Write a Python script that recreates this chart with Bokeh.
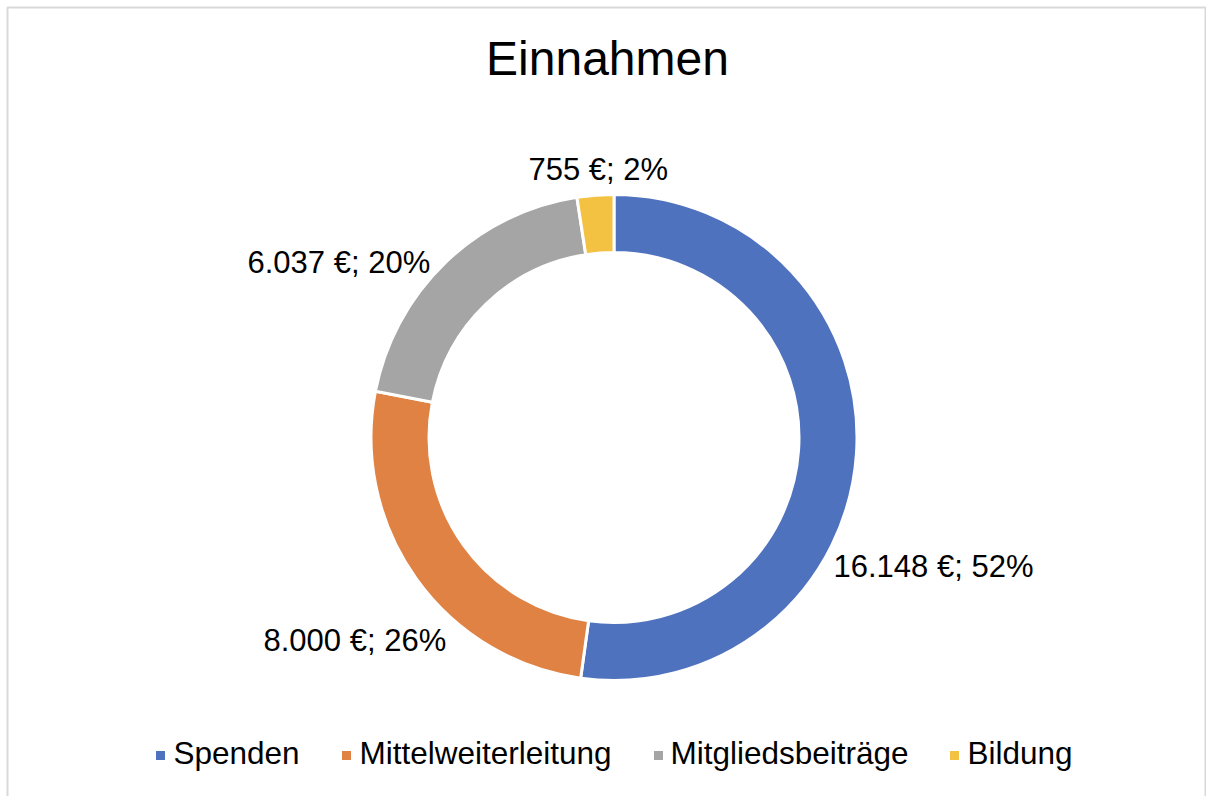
import math
from bokeh.plotting import figure
from bokeh.models import Range1d, ColumnDataSource
from bokeh.core.properties import value
from bokeh.embed import file_html
from bokeh.resources import INLINE

# ---- data ----
title_text = "Einnahmen"
categories = ["Spenden", "Mittelweiterleitung", "Mitgliedsbeiträge", "Bildung"]
amounts = [16148, 8000, 6037, 755]
colors = ["#4F72BE", "#DF8244", "#A5A5A5", "#F4C242"]

# ---- layout (image pixel coordinates) ----
W, H = 1206, 796
OX, OY = 0, 0
cx_img, cy_img = 613.5, 437
r_in, r_out = 185, 243
label_pos_img = [(833, 566), (263, 640), (247, 262), (528, 169)]
legend_marker_x_img = [160, 346, 658, 954]
legend_text_x_img = [173, 359, 670, 967]
legend_text_baseline_img = 752
legend_marker_y_img = 755
title_pos_img = (607, 58)
border_img = (7, 7, 1205, 810)
FONT = "Liberation Sans"


def dx(x):
    return x - OX


def dy(y):
    return (H + OY) - y


total = sum(amounts)
fracs = [a / total for a in amounts]
cum = [0.0]
for f in fracs:
    cum.append(cum[-1] + f)
start_angles = [math.pi / 2 - cum[i + 1] * 2 * math.pi for i in range(len(amounts))]
end_angles = [math.pi / 2 - cum[i] * 2 * math.pi for i in range(len(amounts))]


def fmt_eur(v):
    return f"{v:,}".replace(",", ".") + " €"


labels = [f"{fmt_eur(a)}; {round(f * 100)}%" for a, f in zip(amounts, fracs)]

p = figure(width=W, height=H, output_backend="svg", toolbar_location=None,
           x_range=Range1d(0, W), y_range=Range1d(0, H), min_border=0)
p.axis.visible = False
p.grid.visible = False
p.outline_line_color = None
p.background_fill_color = "white"
p.border_fill_color = "white"

# chart border
p.quad(left=[dx(border_img[0])], right=[dx(border_img[2])],
       top=[dy(border_img[1])], bottom=[dy(border_img[3])],
       fill_color=None, line_color="#D9D9D9", line_width=2)

src = ColumnDataSource(dict(
    x=[dx(cx_img)] * len(amounts), y=[dy(cy_img)] * len(amounts),
    start=start_angles, end=end_angles, color=colors, cat=categories))
p.annular_wedge(x="x", y="y", inner_radius=r_in, outer_radius=r_out,
                inner_radius_units="screen", outer_radius_units="screen",
                start_angle="start", end_angle="end", direction="anticlock",
                fill_color="color", line_color="white", line_width=3,
                source=src)

# data labels
p.text(x=[dx(x) for x, _ in label_pos_img], y=[dy(y) for _, y in label_pos_img],
       text=labels, text_font=value(FONT), text_font_size="31px",
       text_color="#000000", text_align="left", text_baseline="alphabetic")

# title
p.text(x=[dx(title_pos_img[0])], y=[dy(title_pos_img[1])], text=[title_text],
       text_font=value(FONT), text_font_size="48px", text_color="#000000",
       text_align="center", text_baseline="alphabetic")

# legend
p.scatter(x=[dx(x) for x in legend_marker_x_img],
          y=[dy(legend_marker_y_img)] * len(categories),
          marker="square", size=9, fill_color=colors, line_color=None)
p.text(x=[dx(x) for x in legend_text_x_img],
       y=[dy(legend_text_baseline_img)] * len(categories),
       text=categories, text_font=value(FONT), text_font_size="31.5px",
       text_color="#000000", text_align="left", text_baseline="alphabetic")

open("out.html", "w").write(file_html(p, INLINE))
